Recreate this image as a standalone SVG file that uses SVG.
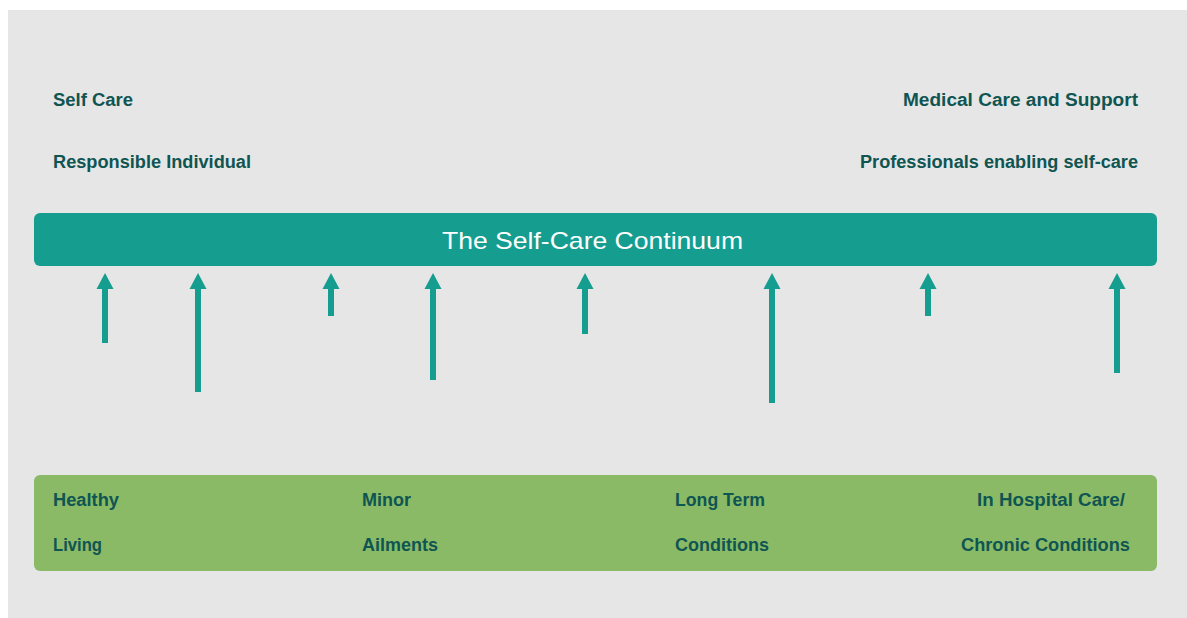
<svg xmlns="http://www.w3.org/2000/svg" width="1187" height="618" viewBox="0 0 1187 618">
<style>
.lbl{font-family:"Liberation Sans",Arial,sans-serif;font-size:18px;font-weight:bold;fill:#0f5552;}
.title{font-family:"Liberation Sans",Arial,sans-serif;font-size:24px;fill:#ffffff;}
.arr{fill:#159d90;}
</style>
<defs>
<marker id="ah" viewBox="0 0 17 16" refX="8.5" refY="0" markerWidth="17" markerHeight="16" markerUnits="userSpaceOnUse" orient="0">
<path d="M8.5 0 L17 16 L0 16 Z" fill="#159d90"/>
</marker>
</defs>
<rect x="0" y="0" width="1187" height="618" fill="#ffffff"/>
<rect x="8" y="10" width="1179" height="608" fill="#e6e6e6"/>
<g id="header-left">
<text class="lbl" x="53" y="106" textLength="80" lengthAdjust="spacingAndGlyphs">Self Care</text>
<text class="lbl" x="53" y="168" textLength="198" lengthAdjust="spacingAndGlyphs">Responsible Individual</text>
</g>
<g id="header-right">
<text class="lbl" x="903" y="106" textLength="235" lengthAdjust="spacingAndGlyphs">Medical Care and Support</text>
<text class="lbl" x="860" y="168" textLength="278" lengthAdjust="spacingAndGlyphs">Professionals enabling self-care</text>
</g>
<g id="continuum">
<rect x="34" y="213" width="1123" height="53" rx="6" fill="#159d90"/>
<text class="title" x="592.5" y="249" text-anchor="middle" textLength="301" lengthAdjust="spacingAndGlyphs">The Self-Care Continuum</text>
</g>
<g id="connectors">
<rect class="arr" x="102" y="287" width="6" height="56"/><path class="arr" d="M105 273 L113.5 289 L96.5 289 Z"/>
<rect class="arr" x="195" y="287" width="6" height="105"/><path class="arr" d="M198 273 L206.5 289 L189.5 289 Z"/>
<rect class="arr" x="328" y="287" width="6" height="29"/><path class="arr" d="M331 273 L339.5 289 L322.5 289 Z"/>
<rect class="arr" x="430" y="287" width="6" height="93"/><path class="arr" d="M433 273 L441.5 289 L424.5 289 Z"/>
<rect class="arr" x="582" y="287" width="6" height="47"/><path class="arr" d="M585 273 L593.5 289 L576.5 289 Z"/>
<rect class="arr" x="769" y="287" width="6" height="116"/><path class="arr" d="M772 273 L780.5 289 L763.5 289 Z"/>
<rect class="arr" x="925" y="287" width="6" height="29"/><path class="arr" d="M928 273 L936.5 289 L919.5 289 Z"/>
<rect class="arr" x="1114" y="287" width="6" height="86"/><path class="arr" d="M1117 273 L1125.5 289 L1108.5 289 Z"/>
</g>
<g id="stages">
<rect x="34" y="475" width="1123" height="96" rx="6" fill="#8aba66"/>
</g>
<g id="stage-healthy">
<text class="lbl" x="53" y="506" textLength="66" lengthAdjust="spacingAndGlyphs">Healthy</text>
<text class="lbl" x="53" y="551" textLength="49" lengthAdjust="spacingAndGlyphs">Living</text>
</g>
<g id="stage-minor">
<text class="lbl" x="362" y="506" textLength="49" lengthAdjust="spacingAndGlyphs">Minor</text>
<text class="lbl" x="362" y="551" textLength="76" lengthAdjust="spacingAndGlyphs">Ailments</text>
</g>
<g id="stage-longterm">
<text class="lbl" x="675" y="506" textLength="90" lengthAdjust="spacingAndGlyphs">Long Term</text>
<text class="lbl" x="675" y="551" textLength="94" lengthAdjust="spacingAndGlyphs">Conditions</text>
</g>
<g id="stage-hospital">
<text class="lbl" x="977" y="506" textLength="148" lengthAdjust="spacingAndGlyphs">In Hospital Care/</text>
<text class="lbl" x="961" y="551" textLength="169" lengthAdjust="spacingAndGlyphs">Chronic Conditions</text>
</g>
</svg>
